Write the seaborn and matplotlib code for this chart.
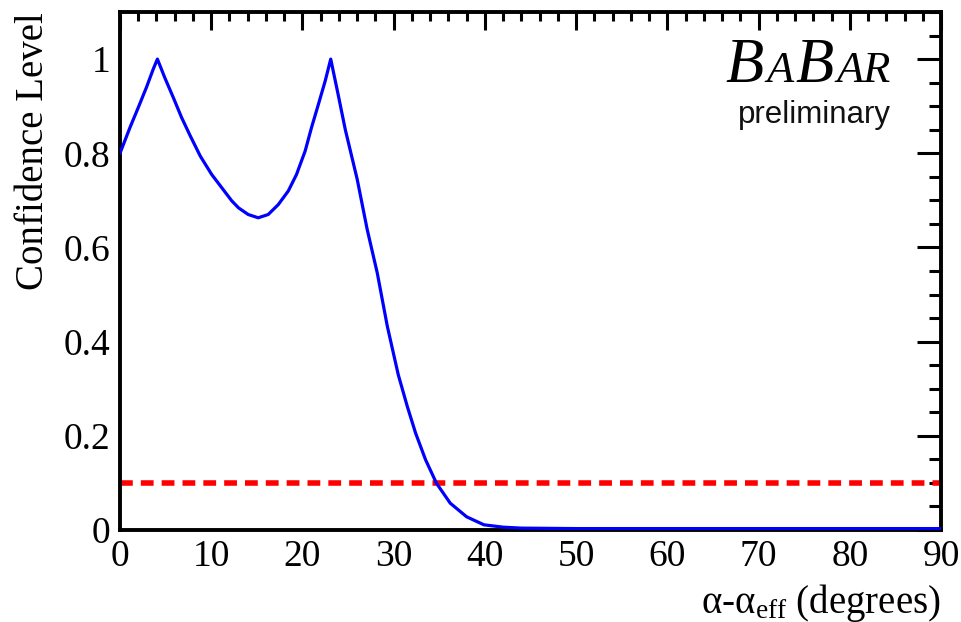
import matplotlib
matplotlib.use("Agg")
import matplotlib.pyplot as plt
import seaborn as sns
from matplotlib.ticker import MultipleLocator, FuncFormatter
from matplotlib.offsetbox import TextArea, HPacker, VPacker, AnchoredOffsetbox

# Dados (alpha - alpha_eff em graus, nível de confiança)
alpha = [0, 1.1, 2.0, 2.9, 3.65, 4.1, 4.9, 5.85, 6.75, 7.7, 8.8, 10.05, 11.15,
         12.25, 13.0, 14.05, 15.15, 16.25, 17.35, 18.45, 19.35, 20.3, 21.0,
         21.75, 22.5, 23.1, 23.9, 24.7, 26.0, 27.1, 28.2, 29.3, 30.5, 31.5,
         32.4, 33.5, 34.7, 36.2, 38.0, 39.9, 42.0, 44.0, 50, 60, 70, 80, 90]
conf_level = [0.80, 0.855, 0.897, 0.94, 0.979, 1.0, 0.961, 0.918, 0.876, 0.837,
              0.794, 0.755, 0.727, 0.699, 0.684, 0.670, 0.663, 0.670, 0.691,
              0.72, 0.755, 0.805, 0.855, 0.904, 0.954, 1.0, 0.926, 0.85, 0.745,
              0.638, 0.546, 0.433, 0.33, 0.262, 0.206, 0.149, 0.099, 0.057,
              0.028, 0.011, 0.006, 0.004, 0.003, 0.003, 0.003, 0.003, 0.003]
cl_threshold = 0.1

sns.set_style("white")
plt.rcParams["font.family"] = ["Liberation Serif", "DejaVu Serif"]
plt.rcParams["mathtext.fontset"] = "custom"
plt.rcParams["mathtext.rm"] = "Liberation Serif"
plt.rcParams["mathtext.it"] = "Liberation Serif:italic"
plt.rcParams["text.color"] = "black"
plt.rcParams["axes.labelcolor"] = "black"

fig = plt.figure(figsize=(9.62, 6.22), dpi=100)
ax = fig.add_axes([120 / 962, 1 - 530 / 622, 821 / 962, 518 / 622])

# curva de nível de confiança
sns.lineplot(x=alpha, y=conf_level, ax=ax, color="#0000ff", lw=2.3, zorder=3)
# linha de 10%
ax.axhline(cl_threshold, color="#ff0000", lw=4.0, dashes=(2.3, 1.45), zorder=2)

ax.set_xlim(0, 90)
ax.set_ylim(0, 1.1)

# ticks estilo ROOT
ax.xaxis.set_major_locator(MultipleLocator(10))
ax.xaxis.set_minor_locator(MultipleLocator(2))
ax.yaxis.set_major_locator(MultipleLocator(0.2))
ax.yaxis.set_minor_locator(MultipleLocator(0.05))
ax.yaxis.set_major_formatter(FuncFormatter(lambda v, p: f"{v:g}"))
ax.tick_params(axis="both", which="both", direction="in", top=True, right=True,
               width=2.2, colors="black", labelsize=27, pad=7)
ax.tick_params(axis="x", which="major", length=13)
ax.tick_params(axis="x", which="minor", length=6.5)
ax.tick_params(axis="y", which="major", length=17)
ax.tick_params(axis="y", which="minor", length=9)
for s in ax.spines.values():
    s.set_linewidth(2.8)
    s.set_color("black")
    s.set_zorder(2.5)

ax.set_ylabel("Confidence Level", fontsize=28, loc="top")
ax.yaxis.set_label_coords(-0.083, 1.0)
ax.set_xlabel(r"α-α$_{\mathrm{eff}}$ (degrees)", fontsize=28, loc="right")
ax.xaxis.set_label_coords(1.0, -0.10)
ax.xaxis.label.set_va("top")

# logo BaBar preliminary
big = dict(fontsize=45, style="italic", family="Liberation Serif", color="black")
small = dict(fontsize=32, style="italic", family="Liberation Serif", color="black")
logo = HPacker(children=[TextArea("B", textprops=big), TextArea("A", textprops=small),
                         TextArea("B", textprops=big), TextArea("AR", textprops=small)],
               align="baseline", pad=0, sep=2)
prelim = TextArea("preliminary", textprops=dict(fontsize=22.5, family="Liberation Sans",
                                                color="#111111"))
box = VPacker(children=[logo, prelim], align="right", pad=0, sep=3)
anchored = AnchoredOffsetbox(loc="upper right", child=box, frameon=False, pad=0,
                             borderpad=0, bbox_to_anchor=(891 / 962, 1 - 38 / 622),
                             bbox_transform=fig.transFigure)
ax.add_artist(anchored)

fig.savefig("out.png", dpi=100, facecolor="white")
